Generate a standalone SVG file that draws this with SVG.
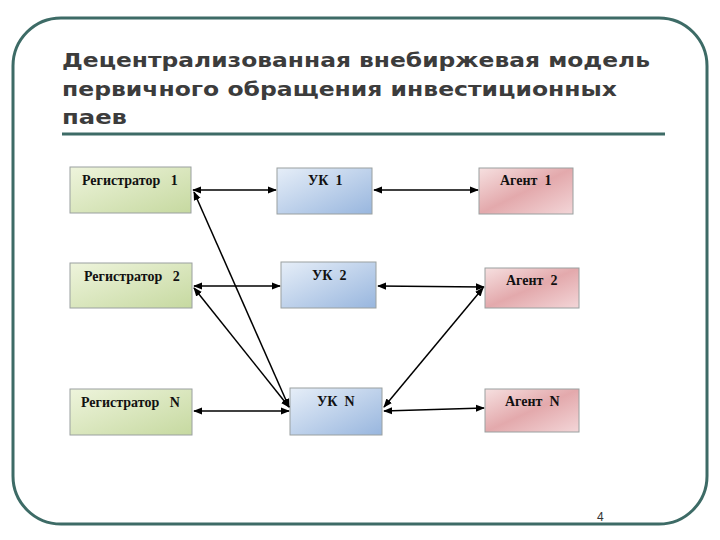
<svg xmlns="http://www.w3.org/2000/svg" width="720" height="540" viewBox="0 0 720 540">
<style>
.t{font-family:"DejaVu Sans","Liberation Sans",sans-serif;font-weight:bold;font-size:20px;fill:#3c3c3c}
.l{font-family:"Liberation Serif","Times New Roman",serif;font-weight:bold;font-size:14px;fill:#111;white-space:pre}
.b{stroke:#9aa0a0;stroke-width:1}
.c{stroke:#000;stroke-width:1.5;fill:none;marker-start:url(#a);marker-end:url(#a)}
</style>
<defs>
<marker id="a" viewBox="0 0 10 10" refX="9" refY="5" markerWidth="6" markerHeight="6" orient="auto-start-reverse"><path d="M0,1L10,5L0,9z" fill="#000"/></marker>
<linearGradient id="g" x1="0" y1="0" x2="1" y2="1"><stop offset="0" stop-color="#eef4dc"/><stop offset="1" stop-color="#c6d9a0"/></linearGradient>
<linearGradient id="u" x1="0" y1="0" x2="1" y2="1"><stop offset="0" stop-color="#e6eef8"/><stop offset="1" stop-color="#98b6de"/></linearGradient>
<linearGradient id="r" x1="0" y1="0" x2="1" y2="1"><stop offset="0" stop-color="#f6e0e0"/><stop offset="0.5" stop-color="#e3a9ac"/><stop offset="1" stop-color="#f3d6d8"/></linearGradient>
</defs>
<rect x="13" y="18" width="694" height="506" rx="48" fill="#fff" stroke="#3d6b66" stroke-width="3"/>
<text class="t" x="62" y="67" textLength="588" lengthAdjust="spacingAndGlyphs">Децентрализованная внебиржевая модель</text>
<text class="t" x="62" y="96" textLength="555" lengthAdjust="spacingAndGlyphs">первичного обращения инвестиционных</text>
<text class="t" x="62" y="124" textLength="65" lengthAdjust="spacingAndGlyphs">паев</text>
<line x1="62" y1="134" x2="665" y2="134" stroke="#3d6b66" stroke-width="3"/>
<g id="reg1"><rect class="b" x="70" y="167" width="121" height="46" fill="url(#g)"/><text class="l" x="82" y="185">Регистратор   1</text></g>
<g id="reg2"><rect class="b" x="70" y="263" width="122" height="45" fill="url(#g)"/><text class="l" x="84" y="281">Регистратор   2</text></g>
<g id="regN"><rect class="b" x="70" y="389" width="122" height="46" fill="url(#g)"/><text class="l" x="81" y="407">Регистратор   N</text></g>
<g id="uk1"><rect class="b" x="277" y="168" width="95" height="46" fill="url(#u)"/><text class="l" x="308" y="185">УК  1</text></g>
<g id="uk2"><rect class="b" x="281" y="262" width="95" height="46" fill="url(#u)"/><text class="l" x="312" y="280">УК  2</text></g>
<g id="ukN"><rect class="b" x="290" y="388" width="92" height="47" fill="url(#u)"/><text class="l" x="317" y="406">УК  N</text></g>
<g id="ag1"><rect class="b" x="479" y="168" width="94" height="46" fill="url(#r)"/><text class="l" x="500" y="185">Агент  1</text></g>
<g id="ag2"><rect class="b" x="485" y="268" width="94" height="40" fill="url(#r)"/><text class="l" x="506" y="285">Агент  2</text></g>
<g id="agN"><rect class="b" x="485" y="389" width="94" height="43" fill="url(#r)"/><text class="l" x="505" y="406">Агент  N</text></g>
<g id="connectors">
<line class="c" x1="193" y1="190" x2="276" y2="190"/>
<line class="c" x1="194" y1="286" x2="280" y2="286"/>
<line class="c" x1="194" y1="411" x2="289" y2="411"/>
<line class="c" x1="374" y1="190" x2="478" y2="190"/>
<line class="c" x1="378" y1="286" x2="484" y2="287"/>
<line class="c" x1="384" y1="411" x2="484" y2="408"/>
<line class="c" x1="194" y1="192" x2="289" y2="407"/>
<line class="c" x1="194" y1="288" x2="289" y2="407"/>
<line class="c" x1="384" y1="407" x2="483" y2="288"/>
</g>
<text x="597" y="521" font-family="Liberation Sans,Arial,sans-serif" font-size="12" fill="#333">4</text>
</svg>
